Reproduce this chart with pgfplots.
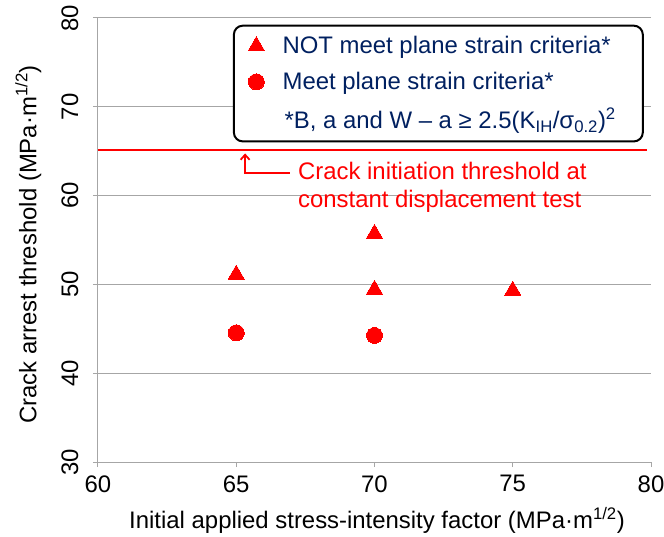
\documentclass[border=0pt]{standalone}
\usepackage{pgfplots}
\pgfplotsset{compat=1.18}
\usetikzlibrary{arrows.meta}
\usepackage{fontspec}
\setmainfont{Liberation Sans}
\definecolor{navy}{RGB}{0,32,96}
\definecolor{gridgray}{RGB}{166,166,166}
\begin{document}
\begin{tikzpicture}
\useasboundingbox (-98bp,-75bp) rectangle (566bp,462bp);
\begin{axis}[
  scale only axis, width=553bp, height=444bp,
  xmin=60, xmax=80, ymin=30, ymax=80,
  xtick={60,65,70,75,80}, ytick={30,40,50,60,70,80},
  axis lines=left,
  axis line style={gridgray, line width=1bp, -},
  tick style={gridgray, line width=1bp},
  tick align=outside,
  major tick length=5bp,
  ymajorgrids,
  grid style={gridgray, line width=1bp},
  /pgf/number format/assume math mode=true,
  ticklabel style={font=\fontsize{24}{29}\selectfont},
  yticklabel style={rotate=90, anchor=south, yshift=11bp},
  xticklabel style={yshift=-5bp},
  xlabel={Initial applied stress-intensity factor (MPa·m\textsuperscript{1/2})},
  ylabel={Crack arrest threshold (MPa·m\textsuperscript{1/2})},
  label style={font=\fontsize{24}{29}\selectfont},
  xlabel style={at={(axis description cs:0.5045,0)}, anchor=center, yshift=-58bp},
  ylabel style={at={(axis description cs:-0.126,0.49)}, anchor=center},
  legend style={at={(axis description cs:0.987,0.985)}, anchor=north east,
    draw=black, line width=2bp, rounded corners=9bp, fill=white,
    font=\fontsize{24}{29}\selectfont, text=navy, row sep=13bp,
    inner xsep=14bp, inner ysep=9bp, nodes={inner xsep=6bp}},
  legend cell align=left,
]
\addplot[only marks, mark=triangle*, mark size=9.5bp, red, mark options={line width=0pt}]
  coordinates {(65,51.1) (70,55.7) (70,49.4) (75,49.3)};
\addlegendentry{\hspace*{12bp}NOT meet plane strain criteria*\hspace*{12bp}}
\addplot[only marks, mark=*, mark size=8bp, red, mark options={line width=0pt}]
  coordinates {(65,44.55) (70,44.25)};
\addlegendentry{\hspace*{12bp}Meet plane strain criteria*}
\addlegendimage{empty legend}
\addlegendentry{\hspace*{14bp}*B, a and W – a ≥ 2.5(K\textsubscript{IH}/σ\textsubscript{0.2})\textsuperscript{2}}
\addplot[red, line width=2bp, forget plot] coordinates {(60,65.1) (79.85,65.1)};
\draw[red, line width=1.8bp, -{Straight Barb[length=5bp,width=9bp]}]
  (axis cs:66.94,62.55) -- (axis cs:65.32,62.55) -- (axis cs:65.32,64.75);
\node[red, anchor=north west, align=left, inner sep=0pt,
  font=\fontsize{24}{29}\selectfont] at (axis cs:67.23,63.84)
  {Crack initiation threshold at\\constant displacement test};
\end{axis}
\end{tikzpicture}
\end{document}
